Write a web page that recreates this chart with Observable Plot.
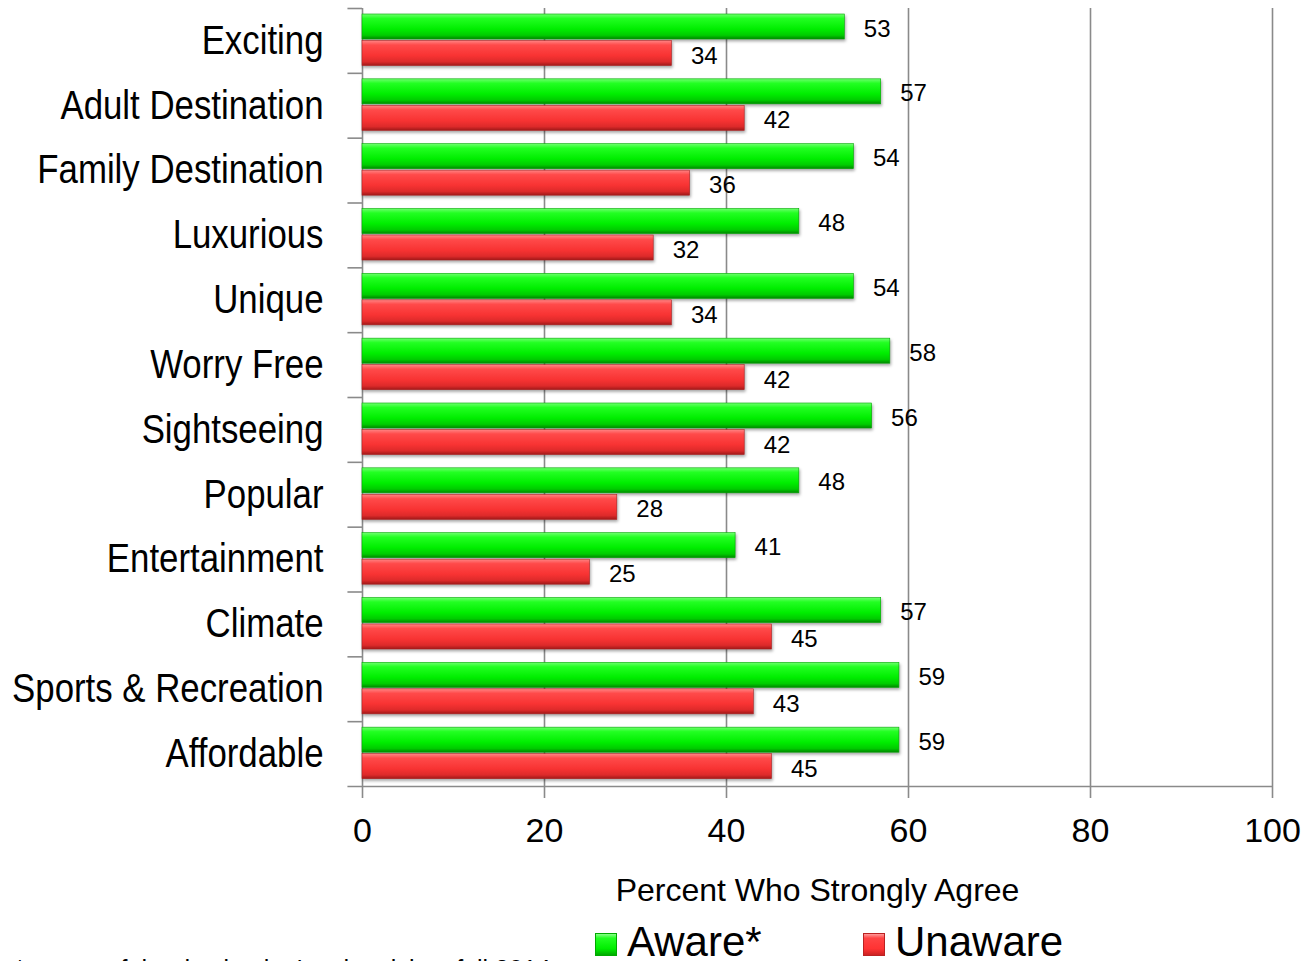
<!DOCTYPE html>
<html>
<head>
<meta charset="utf-8">
<script src="https://cdn.jsdelivr.net/npm/d3@7"></script>
<script src="https://cdn.jsdelivr.net/npm/@observablehq/plot@0.6"></script>
<style>
  html, body { margin: 0; padding: 0; background: #fff; overflow: hidden; }
  #wrap { position: relative; width: 1311px; height: 961px; }
  #chart svg { display: block; }
  #legend { position: relative; height: 46px; font-family: "Liberation Sans", Arial, sans-serif; }
  .item { position: absolute; top: 0; height: 46px; }
  .sw { position: absolute; top: 18px; width: 22px; height: 23px; box-sizing: border-box; }
  .lab { position: absolute; left: 32px; top: 4px; font-size: 42px; line-height: 46px; white-space: nowrap; color: #000; }
  #caption { position: absolute; left: 15px; top: 40px; font-size: 25px; white-space: nowrap; color: #000; }
</style>
</head>
<body>
<div id="wrap">
  <div id="chart"></div>
  <div id="legend">
    <div id="caption">* aware of the destination's advertising, fall 2014</div>
    <div class="item" style="left:595px"><div class="sw" style="background:linear-gradient(#8f8 0%,#2f2 20%,#0e0 70%,#0a0 100%);border:1px solid #0a0"></div><div class="lab">Aware*</div></div>
    <div class="item" style="left:863px"><div class="sw" style="background:linear-gradient(#f99 0%,#f44 20%,#f33 70%,#c22 100%);border:1px solid #b22"></div><div class="lab">Unaware</div></div>
  </div>
</div>
<script>
const categories = ["Exciting", "Adult Destination", "Family Destination", "Luxurious", "Unique", "Worry Free", "Sightseeing", "Popular", "Entertainment", "Climate", "Sports & Recreation", "Affordable"];
const aware   = [53, 57, 54, 48, 54, 58, 56, 48, 41, 57, 59, 59];
const unaware = [34, 42, 36, 32, 34, 42, 42, 28, 25, 45, 43, 45];
const xTicks = [0, 20, 40, 60, 80, 100];
const seriesNames = ["Aware*", "Unaware"];

const rows = categories.map((c, i) => ({cat: c, aware: aware[i], unaware: unaware[i]}));

const W = 1311, H = 915, mT = 8, mB = 129, mL = 362, mR = 39;
const band = (H - mT - mB) / categories.length;
const grid = "#8a8a8a";
const sans = "'Liberation Sans', Arial, sans-serif";

const chart = Plot.plot({
  width: W, height: H,
  marginTop: mT, marginBottom: mB, marginLeft: mL, marginRight: mR,
  style: {background: "#fff", color: "#000"},
  x: {domain: [0, 100], ticks: xTicks},
  y: {domain: categories, padding: 0, round: false},
  marks: [
    Plot.gridX(xTicks, {stroke: grid, strokeOpacity: 1, strokeWidth: 1.6}),
    Plot.ruleY(categories, {y: d => d, x1: -1.6, x2: 0, dy: -band / 2, stroke: grid, strokeWidth: 1.6}),
    Plot.ruleY(categories.slice(-1), {y: d => d, x1: -1.6, x2: 100, dy: band / 2, stroke: grid, strokeWidth: 1.6}),
    Plot.barX(rows, {x: "aware", y: "cat", insetTop: 6, insetBottom: band - 31, fill: "url(#gGreen)", stroke: "#0a0", strokeWidth: 0.6, imageFilter: "drop-shadow(1px 2px 1.5px rgba(0,0,0,0.35))"}),
    Plot.barX(rows, {x: "unaware", y: "cat", insetTop: 32.5, insetBottom: band - 57.5, fill: "url(#gRed)", stroke: "#b02020", strokeWidth: 0.6, imageFilter: "drop-shadow(1px 2px 1.5px rgba(0,0,0,0.35))"}),
    Plot.text(rows, {x: "aware", y: "cat", text: d => String(d.aware), dx: 19, dy: -12, textAnchor: "start", fontSize: 24, fontFamily: sans, fill: "#000"}),
    Plot.text(rows, {x: "unaware", y: "cat", text: d => String(d.unaware), dx: 19, dy: 15, textAnchor: "start", fontSize: 24, fontFamily: sans, fill: "#000"}),
    Plot.axisX({ticks: xTicks, tickSize: 12, tickPadding: 19, stroke: grid, strokeWidth: 1.6, fontSize: 34, fontFamily: sans, label: null, tickFormat: d => String(d)}),
    Plot.axisY({tickSize: 0, tickPadding: 39, fontSize: 40, dy: 0, fontFamily: sans, label: null}),
    Plot.text(["Percent Who Strongly Agree"], {frameAnchor: "bottom", lineAnchor: "middle", dx: 0, dy: 104, fontSize: 32, fontFamily: sans, fill: "#000"})
  ]
});

const svg = d3.select(chart);
svg.insert("defs", ":first-child").html(`
  <linearGradient id="gGreen" x1="0" y1="0" x2="0" y2="1">
    <stop offset="0" stop-color="#6dff6d"/>
    <stop offset="0.18" stop-color="#22ff22"/>
    <stop offset="0.6" stop-color="#00ee00"/>
    <stop offset="0.85" stop-color="#00cc00"/>
    <stop offset="1" stop-color="#008800"/>
  </linearGradient>
  <linearGradient id="gRed" x1="0" y1="0" x2="0" y2="1">
    <stop offset="0" stop-color="#ff8585"/>
    <stop offset="0.18" stop-color="#ff4a4a"/>
    <stop offset="0.6" stop-color="#f83333"/>
    <stop offset="0.85" stop-color="#dd2a2a"/>
    <stop offset="1" stop-color="#a01818"/>
  </linearGradient>`);
// condense the category labels horizontally (narrow face look)
svg.selectAll('g[aria-label="y-axis tick label"] text').each(function () {
  const t = this.getAttribute("transform") || "";
  this.setAttribute("transform", t + " scale(0.87,1)");
});
document.getElementById("chart").appendChild(chart);
</script>
</body>
</html>
